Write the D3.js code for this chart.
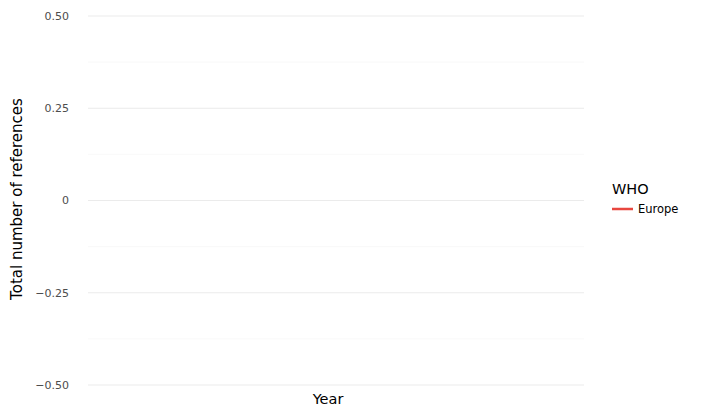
<!DOCTYPE html>
<html><head><meta charset="utf-8">
<script src="https://cdn.jsdelivr.net/npm/d3@7"></script>
<style>body{margin:0;background:#fff;font-family:"DejaVu Sans",sans-serif}</style>
</head><body><svg id="c" width="707" height="417"></svg>
<script>
const years = [];
const europeValues = [];
const yTicks = [0.5, 0.25, 0, -0.25, -0.5];
const yTickLabels = ["0.50", "0.25", "0", "\u22120.25", "\u22120.50"];
const yMinor = [0.375, 0.125, -0.125, -0.375];
const seriesNames = ["Europe"];
const seriesColors = ["#E8473F"];

const svg = d3.select("#c");
const L = 88, R = 584, T = 16, B = 385;
const x = d3.scaleLinear().domain([0, 1]).range([L, R]);
const y = d3.scaleLinear().domain([-0.5, 0.5]).range([B, T]);

svg.selectAll(".mn").data(yMinor).enter().append("line")
  .attr("x1", L).attr("x2", R).attr("y1", d => y(d)).attr("y2", d => y(d))
  .attr("stroke", "#f5f5f5").attr("stroke-width", 0.6);
svg.selectAll(".mj").data(yTicks).enter().append("line")
  .attr("x1", L).attr("x2", R).attr("y1", d => y(d)).attr("y2", d => y(d))
  .attr("stroke", "#e6e6e6").attr("stroke-width", 0.8);
svg.selectAll(".tl").data(yTicks).enter().append("text")
  .attr("x", 69).attr("y", d => y(d)).attr("dy", "0.35em").attr("text-anchor", "end")
  .attr("font-size", 11).attr("fill", "#4d4d4d").text((d, i) => yTickLabels[i]);

const pts = years.map((yr, i) => [yr, europeValues[i]]);
svg.append("path").datum(pts).attr("fill", "none").attr("stroke", seriesColors[0])
  .attr("stroke-width", 2).attr("d", d3.line().x(d => x(d[0])).y(d => y(d[1])));

svg.append("text").attr("x", 328).attr("y", 404).attr("text-anchor", "middle")
  .attr("font-size", 14.5).attr("fill", "#000").text("Year");
svg.append("text").attr("transform", "translate(22,199) rotate(-90)").attr("text-anchor", "middle")
  .attr("font-size", 15).attr("fill", "#000").text("Total number of references");

svg.append("text").attr("x", 612).attr("y", 194).attr("font-size", 14.5).text("WHO");
seriesNames.forEach((n, i) => {
  svg.append("line").attr("x1", 612).attr("x2", 633).attr("y1", 209 + i * 20).attr("y2", 209 + i * 20)
    .attr("stroke", seriesColors[i]).attr("stroke-width", 2.5);
  svg.append("text").attr("x", 638).attr("y", 209 + i * 20).attr("dy", "0.35em")
    .attr("font-size", 11.5).text(n);
});
</script></body></html>
